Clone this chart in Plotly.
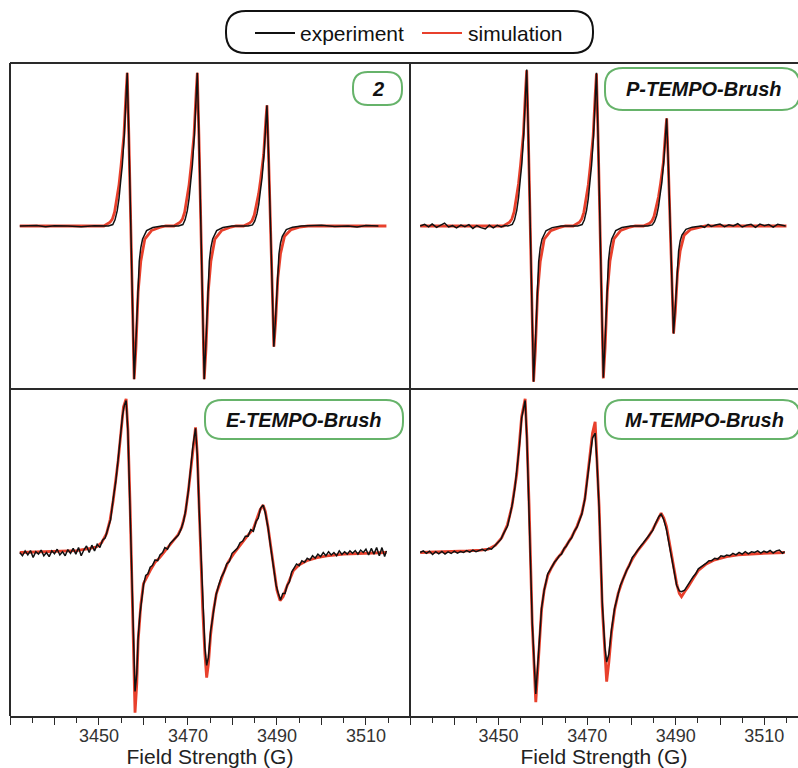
import plotly.graph_objects as go

# ---------------- data (field strength in G, normalised derivative intensity) ----------------
S2_SIM = [(3432.2, 0.0), (3445.0, 0.0), (3451.1, 0.0), (3452.5, 0.024), (3453.0, 0.042), (3453.5, 0.085),
          (3454.0, 0.17), (3454.5, 0.254), (3454.95, 0.367), (3455.6, 0.555), (3456.1, 0.827), (3456.35, 0.94),
          (3456.7, 0.564), (3457.1, 0.0), (3457.5, -0.564), (3457.9, -0.94), (3458.3, -0.752), (3458.8, -0.404),
          (3459.4, -0.216), (3460.3, -0.08), (3461.8, -0.028), (3463.6, -0.009), (3465.0, 0.0),
          (3466.85, 0.0), (3468.25, 0.024), (3468.75, 0.042), (3469.25, 0.085), (3469.75, 0.17),
          (3470.25, 0.254), (3470.7, 0.367), (3471.35, 0.555), (3471.85, 0.827), (3472.1, 0.94),
          (3472.45, 0.564), (3472.85, 0.0), (3473.25, -0.564), (3473.65, -0.94), (3474.05, -0.752),
          (3474.55, -0.404), (3475.15, -0.216), (3476.05, -0.08), (3477.55, -0.028), (3479.35, -0.009),
          (3480.8, 0.0), (3482.5, 0.0), (3483.9, 0.019), (3484.4, 0.033), (3484.9, 0.067), (3485.4, 0.133),
          (3485.9, 0.2), (3486.35, 0.289), (3487.0, 0.437), (3487.5, 0.651), (3487.75, 0.74), (3488.1, 0.444),
          (3488.5, 0.0), (3488.9, -0.444), (3489.3, -0.74), (3489.7, -0.592), (3490.2, -0.318), (3490.8, -0.17),
          (3491.7, -0.063), (3493.2, -0.022), (3495.0, -0.007), (3497.0, 0.0), (3514.6, 0.0)]

S2_EXP = [(3432.2, 0.0), (3436, 0.003), (3438, -0.005), (3440, 0.002), (3443, 0.0), (3446, -0.004),
          (3449, 0.002), (3452.1, 0.0), (3453.1, 0.009), (3453.6, 0.038), (3454.1, 0.094), (3454.5, 0.17),
          (3454.9, 0.282), (3455.25, 0.376), (3455.7, 0.564), (3456.1, 0.827), (3456.35, 0.94), (3456.7, 0.564),
          (3457.1, 0.0), (3457.5, -0.564), (3457.9, -0.94), (3458.3, -0.705), (3458.7, -0.404),
          (3459.05, -0.216), (3459.4, -0.132), (3459.8, -0.08), (3460.7, -0.028), (3462.1, -0.009),
          (3464.1, 0.0), (3467.85, 0.0), (3468.85, 0.009), (3469.35, 0.038), (3469.85, 0.094),
          (3470.25, 0.17), (3470.65, 0.282), (3471.0, 0.376), (3471.45, 0.564), (3471.85, 0.827),
          (3472.1, 0.94), (3472.45, 0.564), (3472.85, 0.0), (3473.25, -0.564), (3473.65, -0.94),
          (3474.05, -0.705), (3474.45, -0.404), (3474.8, -0.216), (3475.15, -0.132), (3475.55, -0.08),
          (3476.45, -0.028), (3477.85, -0.009), (3479.85, 0.0), (3483.5, 0.0), (3484.5, 0.007),
          (3485.0, 0.03), (3485.5, 0.074), (3485.9, 0.133), (3486.3, 0.222), (3486.65, 0.296), (3487.1, 0.444),
          (3487.5, 0.651), (3487.75, 0.74), (3488.1, 0.444), (3488.5, 0.0), (3488.9, -0.444), (3489.3, -0.74),
          (3489.7, -0.555), (3490.1, -0.318), (3490.45, -0.17), (3490.8, -0.104), (3491.2, -0.063),
          (3492.1, -0.022), (3493.5, -0.007), (3495.5, 0.0), (3500, 0.004), (3503, -0.003), (3506, 0.0),
          (3508, -0.006), (3510, 0.003), (3512.8, 0.0)]

P_SIM = [(3432.3, 0.0), (3445.0, 0.0), (3451.1, 0.0), (3452.5, 0.024), (3453.0, 0.043), (3453.5, 0.086),
         (3454.0, 0.172), (3454.5, 0.258), (3454.95, 0.372), (3455.6, 0.563), (3456.1, 0.84), (3456.35, 0.955),
         (3456.7, 0.573), (3457.1, 0.0), (3457.5, -0.573), (3457.9, -0.955), (3458.3, -0.764), (3458.8, -0.41),
         (3459.4, -0.22), (3460.3, -0.081), (3461.8, -0.029), (3463.6, -0.01), (3465.1, 0.0),
         (3466.85, 0.0), (3468.25, 0.023), (3468.75, 0.042), (3469.25, 0.084), (3469.75, 0.168),
         (3470.25, 0.252), (3470.7, 0.365), (3471.35, 0.552), (3471.85, 0.823), (3472.1, 0.935),
         (3472.45, 0.561), (3472.85, 0.0), (3473.25, -0.561), (3473.65, -0.935), (3474.05, -0.748),
         (3474.55, -0.402), (3475.15, -0.215), (3476.05, -0.079), (3477.55, -0.028), (3479.35, -0.009),
         (3480.85, 0.0), (3482.7, 0.0), (3484.1, 0.017), (3484.6, 0.03), (3485.1, 0.059), (3485.6, 0.119),
         (3486.1, 0.178), (3486.55, 0.257), (3487.2, 0.389), (3487.7, 0.581), (3487.95, 0.66), (3488.3, 0.396),
         (3488.7, 0.0), (3489.1, -0.396), (3489.5, -0.66), (3489.9, -0.528), (3490.4, -0.284), (3491.0, -0.152),
         (3491.9, -0.056), (3493.4, -0.02), (3495.2, -0.007), (3496.7, 0.0), (3515.0, 0.0)]

P_EXP = [(3432.3, 0.0), (3433.3, 0.01), (3434.2, -0.005), (3435.0, 0.012), (3436.0, -0.008),
         (3437.0, 0.004), (3437.8, 0.018), (3438.7, -0.006), (3439.6, 0.002), (3440.5, -0.012),
         (3441.5, 0.006), (3442.4, -0.004), (3443.3, 0.008), (3444.2, -0.015), (3445.1, 0.003),
         (3446.0, -0.01), (3447.0, -0.018), (3447.9, 0.005), (3448.8, -0.012), (3449.7, 0.004),
         (3450.6, -0.006), (3451.4, 0.003), (3452.1, 0.0), (3453.1, 0.01), (3453.6, 0.038), (3454.1, 0.096),
         (3454.5, 0.172), (3454.9, 0.287), (3455.25, 0.382), (3455.7, 0.573), (3456.1, 0.84), (3456.35, 0.96),
         (3456.7, 0.573), (3457.1, 0.0), (3457.5, -0.573), (3457.9, -0.955), (3458.3, -0.716), (3458.7, -0.41),
         (3459.05, -0.22), (3459.4, -0.134), (3459.8, -0.081), (3460.7, -0.029), (3462.1, -0.01),
         (3464.1, 0.0), (3467.85, 0.0), (3468.85, 0.009), (3469.35, 0.037), (3469.85, 0.094), (3470.25, 0.168),
         (3470.65, 0.28), (3471.0, 0.374), (3471.45, 0.561), (3471.85, 0.823), (3472.1, 0.94), (3472.45, 0.561),
         (3472.85, 0.0), (3473.25, -0.561), (3473.65, -0.93), (3474.05, -0.701), (3474.45, -0.402),
         (3474.8, -0.215), (3475.15, -0.131), (3475.55, -0.079), (3476.45, -0.028), (3477.85, -0.009),
         (3479.85, 0.0), (3483.7, 0.0), (3484.7, 0.007), (3485.2, 0.026), (3485.7, 0.066), (3486.1, 0.119),
         (3486.5, 0.198), (3486.85, 0.264), (3487.3, 0.396), (3487.7, 0.581), (3487.95, 0.66), (3488.3, 0.396),
         (3488.7, 0.0), (3489.1, -0.396), (3489.5, -0.66), (3489.9, -0.495), (3490.3, -0.284),
         (3490.65, -0.152), (3491.0, -0.092), (3491.4, -0.056), (3492.3, -0.02), (3493.7, -0.007),
         (3495.7, 0.0), (3496.5, -0.008), (3497.3, 0.01), (3498.0, -0.003), (3499.0, 0.006), (3500.0, 0.012),
         (3501.0, -0.004), (3502.0, 0.008), (3503.0, 0.0), (3504.0, 0.014), (3505.0, -0.006), (3506.0, 0.005),
         (3507.0, 0.01), (3508.0, -0.008), (3509.0, 0.012), (3510.0, 0.002), (3511.0, 0.009),
         (3512.0, -0.007), (3513.0, 0.01), (3514.0, 0.004), (3514.8, 0.0)]

E_SIM = [(3432.2, 0.0), (3440, 0.005), (3445, 0.012), (3448, 0.025), (3449.5, 0.035), (3450.6, 0.06),
         (3451.7, 0.115), (3452.5, 0.2), (3453.2, 0.32), (3454.3, 0.56), (3455.0, 0.76), (3455.5, 0.89),
         (3456.1, 0.94), (3456.5, 0.75), (3457.0, 0.28), (3457.6, -0.44), (3458.1, -0.98), (3458.5, -0.80),
         (3458.8, -0.54), (3459.4, -0.32), (3460.0, -0.19), (3461.5, -0.11), (3462.6, -0.06),
         (3463.7, -0.03), (3465.2, 0.02), (3466.7, 0.07), (3467.8, 0.11), (3468.6, 0.155), (3469.4, 0.24),
         (3470.1, 0.38), (3470.7, 0.53), (3471.1, 0.65), (3471.7, 0.765), (3472.1, 0.6), (3472.5, 0.28),
         (3473.3, -0.34), (3473.8, -0.62), (3474.2, -0.765), (3474.6, -0.68), (3475.1, -0.50),
         (3475.7, -0.36), (3476.4, -0.25), (3477.9, -0.13), (3479.0, -0.06), (3480.2, -0.01),
         (3481.3, 0.03), (3482.4, 0.07), (3483.6, 0.11), (3484.7, 0.145), (3485.5, 0.2), (3486.2, 0.26),
         (3486.9, 0.29), (3487.4, 0.25), (3488.0, 0.155), (3488.6, 0.03), (3489.2, -0.09), (3490.0, -0.23),
         (3490.7, -0.295), (3491.4, -0.27), (3492.2, -0.21), (3493.0, -0.155), (3493.7, -0.11),
         (3495.0, -0.075), (3496.7, -0.05), (3499.0, -0.032), (3501.2, -0.02), (3505, -0.01),
         (3510, -0.004), (3514.6, 0.0)]

E_EXP = [(3432.2, 0.0), (3432.8, -0.02), (3433.4, 0.01), (3434.0, -0.015), (3434.6, 0.012),
         (3435.2, -0.03), (3435.8, 0.005), (3436.4, -0.01), (3437.0, 0.015), (3437.6, -0.02),
         (3438.2, 0.0), (3438.8, -0.025), (3439.4, 0.01), (3440.0, -0.008), (3440.6, 0.02),
         (3441.2, -0.015), (3441.8, 0.005), (3442.4, -0.02), (3443.0, 0.018), (3443.6, -0.005),
         (3444.2, 0.025), (3444.8, -0.01), (3445.4, 0.03), (3446.0, -0.02), (3446.6, 0.015),
         (3447.2, 0.04), (3447.8, 0.0), (3448.4, 0.045), (3449.0, 0.01), (3449.6, 0.05), (3450.2, 0.03),
         (3450.8, 0.075), (3451.4, 0.09), (3452.0, 0.15), (3452.6, 0.2), (3453.2, 0.33), (3453.8, 0.44),
         (3454.3, 0.57), (3454.8, 0.7), (3455.3, 0.84), (3455.7, 0.9), (3456.1, 0.93), (3456.5, 0.74),
         (3457.0, 0.27), (3457.6, -0.42), (3458.1, -0.85), (3458.5, -0.74), (3458.8, -0.52),
         (3459.2, -0.38), (3459.6, -0.27), (3460.0, -0.2), (3460.5, -0.14), (3461.0, -0.13),
         (3461.5, -0.09), (3462.0, -0.08), (3462.6, -0.045), (3463.2, -0.05), (3463.7, -0.015),
         (3464.3, 0.0), (3464.8, 0.03), (3465.4, 0.02), (3466.0, 0.055), (3466.6, 0.07), (3467.2, 0.085),
         (3467.8, 0.105), (3468.4, 0.14), (3469.0, 0.19), (3469.5, 0.26), (3470.1, 0.38), (3470.7, 0.54),
         (3471.1, 0.65), (3471.7, 0.76), (3472.1, 0.59), (3472.5, 0.27), (3473.3, -0.33), (3473.8, -0.58),
         (3474.2, -0.69), (3474.6, -0.64), (3475.1, -0.48), (3475.7, -0.36), (3476.3, -0.26),
         (3476.9, -0.2), (3477.5, -0.15), (3478.1, -0.12), (3478.7, -0.07), (3479.3, -0.055),
         (3479.9, -0.005), (3480.5, 0.01), (3481.1, 0.025), (3481.7, 0.06), (3482.3, 0.07), (3482.9, 0.1),
         (3483.5, 0.1), (3484.1, 0.14), (3484.7, 0.13), (3485.3, 0.19), (3485.8, 0.21), (3486.3, 0.27),
         (3486.9, 0.29), (3487.4, 0.24), (3488.0, 0.15), (3488.6, 0.03), (3489.2, -0.08), (3489.8, -0.2),
         (3490.3, -0.25), (3490.8, -0.29), (3491.3, -0.25), (3491.8, -0.25), (3492.3, -0.2),
         (3492.8, -0.18), (3493.3, -0.12), (3493.8, -0.1), (3494.4, -0.07), (3495.0, -0.08),
         (3495.6, -0.05), (3496.2, -0.06), (3496.8, -0.035), (3497.4, -0.045), (3498.0, -0.02),
         (3498.6, -0.035), (3499.2, -0.01), (3499.8, -0.025), (3500.4, 0.0), (3501.0, -0.02),
         (3501.6, 0.005), (3502.2, -0.015), (3502.8, 0.0), (3503.4, -0.02), (3504.0, 0.01),
         (3504.6, -0.012), (3505.2, 0.005), (3505.8, -0.01), (3506.4, 0.01), (3507.0, -0.005),
         (3507.6, 0.012), (3508.2, -0.01), (3508.8, 0.015), (3509.4, 0.0), (3510.0, 0.02),
         (3510.6, -0.015), (3511.2, 0.025), (3511.8, -0.01), (3512.4, 0.03), (3513.0, -0.02),
         (3513.6, 0.03), (3514.2, -0.025), (3514.6, 0.01)]

M_SIM = [(3432.3, 0.0), (3438, 0.004), (3443, 0.01), (3446, 0.015), (3447.7, 0.02), (3449.3, 0.045),
         (3450.7, 0.09), (3452.0, 0.17), (3453.0, 0.28), (3454.1, 0.48), (3454.7, 0.65), (3455.2, 0.83),
         (3456.0, 0.94), (3456.4, 0.70), (3456.9, 0.28), (3457.6, -0.44), (3458.4, -0.915), (3458.8, -0.74),
         (3459.1, -0.54), (3459.7, -0.35), (3460.3, -0.23), (3461.1, -0.14), (3462.0, -0.09),
         (3463.1, -0.04), (3464.2, -0.005), (3465.3, 0.045), (3466.5, 0.095), (3467.7, 0.16),
         (3468.8, 0.24), (3469.5, 0.33), (3470.2, 0.48), (3470.7, 0.61), (3471.2, 0.73), (3471.8, 0.80),
         (3472.2, 0.6), (3472.7, 0.28), (3473.4, -0.33), (3474.0, -0.66), (3474.4, -0.79), (3474.9, -0.67),
         (3475.5, -0.49), (3476.2, -0.35), (3477.0, -0.25), (3478.0, -0.17), (3478.9, -0.11),
         (3480.2, -0.04), (3481.5, 0.015), (3482.7, 0.055), (3483.8, 0.095), (3484.8, 0.14),
         (3485.7, 0.19), (3486.2, 0.22), (3486.7, 0.24), (3487.3, 0.21), (3487.9, 0.16), (3488.5, 0.07),
         (3489.1, -0.02), (3489.7, -0.11), (3490.2, -0.19), (3490.8, -0.25), (3491.3, -0.27),
         (3492.0, -0.24), (3492.8, -0.21), (3493.9, -0.16), (3495.1, -0.11), (3496.9, -0.07),
         (3498.8, -0.045), (3501.5, -0.025), (3504.1, -0.015), (3509, -0.006), (3514.6, 0.0)]

M_EXP = [(3432.3, 0.0), (3433.0, 0.01), (3433.7, -0.005), (3434.4, 0.008), (3435.1, -0.012),
         (3435.8, 0.005), (3436.5, -0.008), (3437.2, 0.006), (3437.9, -0.01), (3438.6, 0.004),
         (3439.3, -0.006), (3440.0, 0.008), (3440.7, -0.004), (3441.4, 0.006), (3442.1, 0.0),
         (3442.8, 0.012), (3443.5, 0.002), (3444.2, 0.015), (3444.9, 0.005), (3445.6, 0.012),
         (3446.3, 0.02), (3447.0, 0.01), (3447.7, 0.025), (3448.4, 0.02), (3449.1, 0.04), (3449.8, 0.06),
         (3450.5, 0.08), (3451.2, 0.12), (3452.0, 0.16), (3452.6, 0.23), (3453.2, 0.31), (3453.7, 0.4),
         (3454.1, 0.49), (3454.7, 0.65), (3455.2, 0.82), (3456.0, 0.93), (3456.4, 0.69), (3456.9, 0.27),
         (3457.6, -0.43), (3458.4, -0.865), (3458.8, -0.71), (3459.1, -0.53), (3459.7, -0.34),
         (3460.3, -0.23), (3461.1, -0.13), (3462.0, -0.09), (3462.6, -0.06), (3463.1, -0.045),
         (3463.7, -0.02), (3464.2, -0.01), (3464.8, 0.025), (3465.3, 0.04), (3465.9, 0.07),
         (3466.5, 0.09), (3467.1, 0.13), (3467.7, 0.155), (3468.3, 0.2), (3468.8, 0.235), (3469.5, 0.33),
         (3470.2, 0.47), (3470.7, 0.6), (3471.2, 0.7), (3471.8, 0.73), (3472.2, 0.56), (3472.7, 0.27),
         (3473.4, -0.3), (3474.0, -0.58), (3474.4, -0.67), (3474.9, -0.62), (3475.5, -0.47),
         (3476.2, -0.34), (3477.0, -0.25), (3477.5, -0.2), (3478.0, -0.17), (3478.5, -0.13),
         (3478.9, -0.11), (3479.5, -0.08), (3480.2, -0.03), (3480.8, -0.01), (3481.5, 0.02),
         (3482.1, 0.04), (3482.7, 0.06), (3483.3, 0.08), (3483.8, 0.1), (3484.3, 0.12), (3484.8, 0.135),
         (3485.3, 0.17), (3485.7, 0.19), (3486.2, 0.22), (3486.7, 0.235), (3487.3, 0.2), (3487.9, 0.14),
         (3488.5, 0.05), (3489.1, -0.04), (3489.7, -0.13), (3490.2, -0.2), (3490.8, -0.235),
         (3491.3, -0.24), (3492.0, -0.23), (3492.8, -0.2), (3493.4, -0.17), (3493.9, -0.15),
         (3494.5, -0.13), (3495.1, -0.1), (3495.7, -0.09), (3496.3, -0.075), (3496.9, -0.065),
         (3497.5, -0.05), (3498.1, -0.05), (3498.8, -0.035), (3499.5, -0.04), (3500.2, -0.02),
         (3500.9, -0.025), (3501.5, -0.015), (3502.2, -0.02), (3502.9, -0.005), (3503.6, -0.015),
         (3504.3, 0.0), (3505.0, -0.01), (3505.7, 0.005), (3506.4, -0.008), (3507.1, 0.004),
         (3507.8, 0.0), (3508.5, 0.01), (3509.2, -0.004), (3509.9, 0.008), (3510.6, 0.0),
         (3511.3, 0.012), (3512.0, -0.004), (3512.7, 0.01), (3513.4, 0.015), (3514.1, -0.005),
         (3514.6, 0.005)]

PANEL_LABELS = ["2", "P-TEMPO-Brush", "E-TEMPO-Brush", "M-TEMPO-Brush"]
SERIES_NAMES = ["experiment", "simulation"]
MAJOR_TICKS = [3430, 3440, 3450, 3460, 3470, 3480, 3490, 3500, 3510]
MAJOR_TEXT = ["", "", "3450", "", "3470", "", "3490", "", "3510"]
MINOR_TICKS = [3435, 3445, 3455, 3465, 3475, 3485, 3495, 3505, 3515]
AXIS_TITLE = "Field Strength (G)"

# ---------------- styling ----------------
W, H = 798, 768
RED = "#e8402c"
BLACK = "#111111"
GREEN = "#66b36a"
FRAME = "#2a2a2a"
FONT = "Liberation Sans, Arial, Helvetica, sans-serif"


def fx(x):
    return x / W


def fy(y):
    return 1 - y / H


def rounded_path(x0, y0, x1, y1, r):
    pts = [
        ("M", [(x0 + r, y0)]), ("L", [(x1 - r, y0)]), ("Q", [(x1, y0), (x1, y0 + r)]),
        ("L", [(x1, y1 - r)]), ("Q", [(x1, y1), (x1 - r, y1)]), ("L", [(x0 + r, y1)]),
        ("Q", [(x0, y1), (x0, y1 - r)]), ("L", [(x0, y0 + r)]), ("Q", [(x0, y0), (x0 + r, y0)]),
    ]
    s = ""
    for cmd, ps in pts:
        s += cmd + " " + " ".join(f"{fx(a):.5f},{fy(b):.5f}" for a, b in ps) + " "
    return s + "Z"


LEFT, MID, RIGHT = 10, 410, 798
TOP, HMID, BOTTOM = 63, 389, 716

panels = [
    (S2_SIM, S2_EXP, "x3", "y3", [3430, 3519.9]),
    (P_SIM, P_EXP, "x4", "y4", [3430, 3517.6]),
    (E_SIM, E_EXP, "x", "y", [3430, 3519.9]),
    (M_SIM, M_EXP, "x2", "y2", [3430, 3517.6]),
]

fig = go.Figure()
for sim, exp, xa, ya, _ in panels:
    sx, sy = zip(*sim)
    ex, ey = zip(*exp)
    fig.add_trace(go.Scatter(x=sx, y=sy, mode="lines", name=SERIES_NAMES[1], xaxis=xa, yaxis=ya,
                             line=dict(color=RED, width=2.8), showlegend=False))
    fig.add_trace(go.Scatter(x=ex, y=ey, mode="lines", name=SERIES_NAMES[0], xaxis=xa, yaxis=ya,
                             line=dict(color=BLACK, width=1.5), showlegend=False))

left_dom = [fx(LEFT), fx(MID)]
right_dom = [fx(MID), fx(RIGHT)]
top_dom = [fy(HMID), fy(TOP)]
bot_dom = [fy(BOTTOM), fy(HMID)]

bottom_x = dict(
    showline=True, linecolor=FRAME, linewidth=1.6, mirror=False,
    ticks="outside", ticklen=7, tickwidth=1.4, tickcolor=FRAME,
    tickmode="array", tickvals=MAJOR_TICKS, ticktext=MAJOR_TEXT,
    minor=dict(tickvals=MINOR_TICKS, ticks="outside", ticklen=5, tickwidth=1.2, tickcolor=FRAME),
    tickfont=dict(family=FONT, size=18, color="#333333"),
    ticklabelstandoff=-4,
    title=dict(text=AXIS_TITLE, font=dict(family=FONT, size=21, color="#222222"), standoff=3),
    showgrid=False, zeroline=False,
)
hidden_x = dict(showline=False, showticklabels=False, ticks="", showgrid=False, zeroline=False)
hidden_y = dict(showline=False, showticklabels=False, ticks="", showgrid=False, zeroline=False,
                range=[-1, 1], fixedrange=True)

fig.update_layout(
    width=W, height=H, margin=dict(l=0, r=0, t=0, b=0),
    paper_bgcolor="white", plot_bgcolor="white",
    showlegend=False,
    xaxis=dict(domain=left_dom, anchor="y", range=panels[2][4], **bottom_x),
    yaxis=dict(domain=bot_dom, anchor="x", **hidden_y),
    xaxis2=dict(domain=right_dom, anchor="y2", range=panels[3][4], **bottom_x),
    yaxis2=dict(domain=bot_dom, anchor="x2", **hidden_y),
    xaxis3=dict(domain=left_dom, anchor="y3", range=panels[0][4], **hidden_x),
    yaxis3=dict(domain=top_dom, anchor="x3", **hidden_y),
    xaxis4=dict(domain=right_dom, anchor="y4", range=panels[1][4], **hidden_x),
    yaxis4=dict(domain=top_dom, anchor="x4", **hidden_y),
)

shapes = []
for (x0, y0, x1, y1) in [(LEFT, TOP, RIGHT + 2, TOP), (LEFT, TOP, LEFT, BOTTOM), (MID, TOP, MID, BOTTOM),
                         (LEFT, HMID, RIGHT + 2, HMID)]:
    shapes.append(dict(type="line", xref="paper", yref="paper", x0=fx(x0), y0=fy(y0), x1=fx(x1), y1=fy(y1),
                       line=dict(color=FRAME, width=2)))

shapes.append(dict(type="path", xref="paper", yref="paper", path=rounded_path(226, 11, 593, 53, 20),
                   line=dict(color="#111111", width=2), fillcolor="white"))
shapes.append(dict(type="line", xref="paper", yref="paper", x0=fx(255), y0=fy(33), x1=fx(295), y1=fy(33),
                   line=dict(color=BLACK, width=2)))
shapes.append(dict(type="line", xref="paper", yref="paper", x0=fx(422), y0=fy(33), x1=fx(462), y1=fy(33),
                   line=dict(color=RED, width=2)))

label_boxes = [
    (353, 72, 402, 105, 15, 378, 89),
    (605, 68, 800, 110, 18, 704, 89),
    (205, 400, 403, 439, 17, 304, 420),
    (605, 400, 800, 439, 17, 704, 420),
]
annotations = []
for text, (x0, y0, x1, y1, r, tx, ty) in zip(PANEL_LABELS, label_boxes):
    shapes.append(dict(type="path", xref="paper", yref="paper", path=rounded_path(x0, y0, x1, y1, r),
                       line=dict(color=GREEN, width=2), fillcolor="white"))
    annotations.append(dict(xref="paper", yref="paper", x=fx(tx), y=fy(ty), text=f"<b><i>{text}</i></b>",
                            showarrow=False, xanchor="center", yanchor="middle",
                            font=dict(family=FONT, size=20, color="#111111")))

annotations.append(dict(xref="paper", yref="paper", x=fx(298), y=fy(33), text=SERIES_NAMES[0],
                        showarrow=False, xanchor="left", yanchor="middle",
                        font=dict(family=FONT, size=21, color="#111111")))
annotations.append(dict(xref="paper", yref="paper", x=fx(466), y=fy(33), text=SERIES_NAMES[1],
                        showarrow=False, xanchor="left", yanchor="middle",
                        font=dict(family=FONT, size=21, color="#111111")))

fig.update_layout(shapes=shapes, annotations=annotations)

fig.write_html("out.html", config={"displayModeBar": False},
               post_script="document.body.style.margin='0';document.body.style.overflow='hidden';")
